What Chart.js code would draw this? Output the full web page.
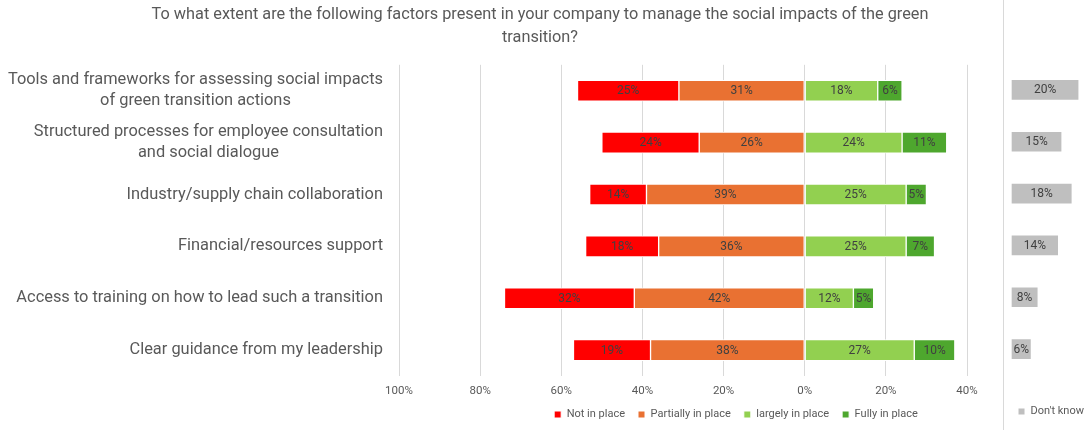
<!DOCTYPE html>
<html>
<head>
<meta charset="utf-8">
<script src="https://cdn.jsdelivr.net/npm/chart.js@4"></script>
<style>
  body { margin: 0; background: #fff; }
  #wrap { position: relative; width: 1091px; height: 430px; }
  #mainBox { position: absolute; left: 0; top: 0; }
  #dkBox { position: absolute; left: 1003px; top: 0; border-left: 1px solid #d9d9d9; }
</style>
</head>
<body>
<div id="wrap">
  <div id="mainBox"><canvas id="mainChart" width="1080" height="430"></canvas></div>
  <div id="dkBox"><canvas id="dkChart" width="87" height="430"></canvas></div>
</div>
<script>
// factors (each entry = lines of the axis label)
const factors = [
    ["Tools and frameworks for assessing social impacts", "of green transition actions"],
    ["Structured processes for employee consultation", "and social dialogue"],
    ["Industry/supply chain collaboration"],
    ["Financial/resources support"],
    ["Access to training on how to lead such a transition"],
    ["Clear guidance from my leadership"],
];
const notInPlace = [25, 24, 14, 18, 32, 19];
const partiallyInPlace = [31, 26, 39, 36, 42, 38];
const largelyInPlace = [18, 24, 25, 25, 12, 27];
const fullyInPlace = [6, 11, 5, 7, 5, 10];
const dontKnow = [20, 15, 18, 14, 8, 6];
const legendOrder = ["Not in place", "Partially in place", "largely in place", "Fully in place"];

const textGrey = "#595959";
Chart.defaults.font.family = "Roboto";
Chart.defaults.color = textGrey;

// writes the % value in the middle of every bar
const barValues = {
    id: "barValues",
    afterDatasetsDraw(chart) {
        const ctx = chart.ctx;
        ctx.save();
        ctx.font = "12px Roboto";
        ctx.fillStyle = "#404040";
        ctx.textAlign = "center";
        ctx.textBaseline = "middle";
        chart.data.datasets.forEach((ds, i) => {
            chart.getDatasetMeta(i).data.forEach((bar, j) => {
                const p = bar.getCenterPoint();
                ctx.fillText(Math.abs(ds.data[j]) + "%", p.x, p.y + 0.5);
            });
        });
        ctx.restore();
    },
};

// category labels: block right aligned against the plot, lines centred in the block
const factorLabels = {
    id: "factorLabels",
    afterDraw(chart) {
        const ctx = chart.ctx;
        const y = chart.scales.y;
        ctx.save();
        ctx.font = "16.4px Roboto";
        ctx.fillStyle = textGrey;
        ctx.textAlign = "center";
        ctx.textBaseline = "middle";
        factors.forEach((lines, i) => {
            const yc = y.getPixelForValue(i);
            const w = Math.max(...lines.map(l => ctx.measureText(l).width));
            const xc = y.right - 16 - w / 2;
            lines.forEach((line, k) => {
                ctx.fillText(line, xc, yc + (k - (lines.length - 1) / 2) * 21);
            });
        });
        ctx.restore();
    },
};

// legend sits under the right part of the plot
const legendOffset = {
    id: "legendOffset",
    afterLayout(chart) {
        const lg = chart.legend;
        const dx = 736 - (lg.left + lg.right) / 2;
        lg.left += dx;
        lg.right += dx;
    },
};

const barStyle = { barThickness: 21, borderColor: "#ffffff", borderWidth: 1, borderSkipped: false };

// negatives on the left, partially closest to 0
const mainChart = new Chart(document.querySelector("#mainChart"), {
    type: "bar",
    data: {
        labels: factors,
        datasets: [
            { label: "Partially in place", data: partiallyInPlace.map(v => -v), backgroundColor: "#e97132", ...barStyle },
            { label: "Not in place", data: notInPlace.map(v => -v), backgroundColor: "#ff0000", ...barStyle },
            { label: "largely in place", data: largelyInPlace, backgroundColor: "#92d050", ...barStyle },
            { label: "Fully in place", data: fullyInPlace, backgroundColor: "#4ea72e", ...barStyle },
        ],
    },
    options: {
        indexAxis: "y",
        responsive: false,
        animation: false,
        layout: { padding: 0 },
        scales: {
            x: {
                stacked: true,
                min: -100,
                max: 40,
                ticks: { stepSize: 20, padding: 8, font: { size: 11.5 }, callback: v => Math.abs(v) + "%" },
                grid: { color: "#d9d9d9", drawTicks: false },
                border: { display: false },
                afterFit(s) { s.height = 20; },
            },
            y: {
                stacked: true,
                ticks: { display: false },
                grid: { display: false },
                border: { display: false },
                afterFit(s) { s.width = 399; },
            },
            pad: {
                type: "linear",
                position: "right",
                ticks: { display: false },
                grid: { display: false },
                border: { display: false },
                afterFit(s) { s.width = 113; },
            },
        },
        plugins: {
            title: {
                display: true,
                text: [
                    "To what extent are the following factors present in your company to manage the social impacts of the green",
                    "transition?",
                ],
                color: textGrey,
                font: { size: 16.3, weight: "normal", lineHeight: 1.375 },
                padding: { top: 4, bottom: 16 },
            },
            legend: {
                position: "bottom",
                labels: {
                    boxWidth: 7,
                    boxHeight: 7,
                    padding: 13,
                    font: { size: 11 },
                    sort: (a, b) => legendOrder.indexOf(a.text) - legendOrder.indexOf(b.text),
                },
            },
            tooltip: { enabled: false },
        },
    },
    plugins: [barValues, factorLabels, legendOffset],
});

const dkChart = new Chart(document.querySelector("#dkChart"), {
    type: "bar",
    data: {
        labels: factors,
        datasets: [
            { label: "Don't know", data: dontKnow, backgroundColor: "#bfbfbf", ...barStyle },
        ],
    },
    options: {
        indexAxis: "y",
        responsive: false,
        animation: false,
        layout: { padding: { top: 64, left: 7, bottom: 3 } },
        scales: {
            x: { display: false, min: 0, max: 23.5 },
            y: { display: false },
        },
        plugins: {
            legend: {
                position: "bottom",
                labels: { boxWidth: 7, boxHeight: 7, padding: 31, font: { size: 11 } },
            },
            tooltip: { enabled: false },
        },
    },
    plugins: [barValues],
});
</script>
</body>
</html>
